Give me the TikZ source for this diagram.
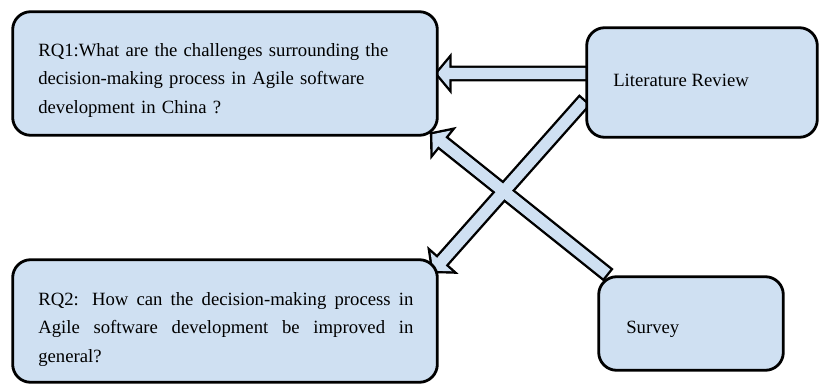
\documentclass[tikz,border=0pt]{standalone}
\usepackage{fontspec}
\setmainfont{Liberation Serif}
\usepackage{xcolor}
\usepackage{tikz}
\usetikzlibrary{calc}

\definecolor{boxblue}{RGB}{207,224,242}
\newcommand{\arrshaft}{0.14cm}
\newcommand{\arrhead}{0.36cm}
\newcommand{\arrlen}{0.3cm}

\begin{document}
\begin{tikzpicture}[
    x=0.025cm, y=-0.025cm,
    qbox/.style={draw=black, line width=2pt, rounded corners=0.45cm, fill=boxblue},
    qtext/.style={inner sep=0pt, anchor=base west, font=\fontsize{13.3}{20.3}\selectfont},
    blockarrow/.style={to path={
        ($(\tikztostart)!\arrshaft!90:(\tikztotarget)$)
        -- ($(\tikztotarget)!\arrlen!(\tikztostart)!\arrshaft!-90:(\tikztostart)$)
        -- ($(\tikztotarget)!\arrlen!(\tikztostart)!\arrhead!-90:(\tikztostart)$)
        -- (\tikztotarget)
        -- ($(\tikztotarget)!\arrlen!(\tikztostart)!\arrhead!90:(\tikztostart)$)
        -- ($(\tikztotarget)!\arrlen!(\tikztostart)!\arrshaft!90:(\tikztostart)$)
        -- ($(\tikztostart)!\arrshaft!-90:(\tikztotarget)$) -- cycle}},
    arrowline/.style={draw=black, line width=3.4pt},
    arrowfill/.style={fill=boxblue}
]
    \useasboundingbox (0,0) rectangle (824,383);

    % Boxes (shapes only, drawn later on top of the arrows)
    \path (225,73.5) coordinate (rqonec) (702,82.5) coordinate (litc)
          (225,321) coordinate (rqtwoc) (691,323.5) coordinate (surveyc);
    \node[minimum width=10.6cm, minimum height=3.075cm] (rqone) at (rqonec) {};
    \node[minimum width=5.75cm, minimum height=2.725cm] (litreview) at (litc) {};
    \node[minimum width=10.6cm, minimum height=3.05cm] (rqtwo) at (rqtwoc) {};
    \node[minimum width=4.6cm, minimum height=2.325cm] (survey) at (surveyc) {};

    % Arrow ends
    \coordinate (litout) at (litreview.west |- rqone.east);
    \coordinate (littail) at ($(litreview.south west)+(-3,-36)$);
    \coordinate (rqtwotip) at ($(rqtwo.north east)+(-4,11)$);
    \coordinate (surveytail) at ($(survey.north west)+(8,-3)$);
    \coordinate (rqonetip) at ($(rqone.south east)+(-5,-1)$);

    % Block arrows: outlines first, then fills so the crossing merges
    \foreach \s/\t in {litout/rqone.east, littail/rqtwotip, surveytail/rqonetip}
        \draw[arrowline] (\s) to[blockarrow] (\t);
    \foreach \s/\t in {litout/rqone.east, littail/rqtwotip, surveytail/rqonetip}
        \fill[arrowfill] (\s) to[blockarrow] (\t);

    \draw[qbox] (rqone.south west) rectangle (rqone.north east);
    \draw[qbox] (litreview.south west) rectangle (litreview.north east);
    \draw[qbox] (rqtwo.south west) rectangle (rqtwo.north east);
    \draw[qbox] (survey.south west) rectangle (survey.north east);

    % Texts
    \node[qtext, text width=10cm, align=left] (rqonetext) at (38,56)
        {RQ1:What are the challenges surrounding the\\decision-making process in Agile software\\development in China ?};
    \node[qtext, text width=9.375cm, align=justify] (rqtwotext) at (38,305)
        {RQ2: How can the decision-making process in\linebreak Agile software development be improved in\linebreak general?};
    \node[qtext] (littext) at (613,86) {Literature Review};
    \node[qtext] (surveytext) at (626,333) {Survey};

\end{tikzpicture}
\end{document}
